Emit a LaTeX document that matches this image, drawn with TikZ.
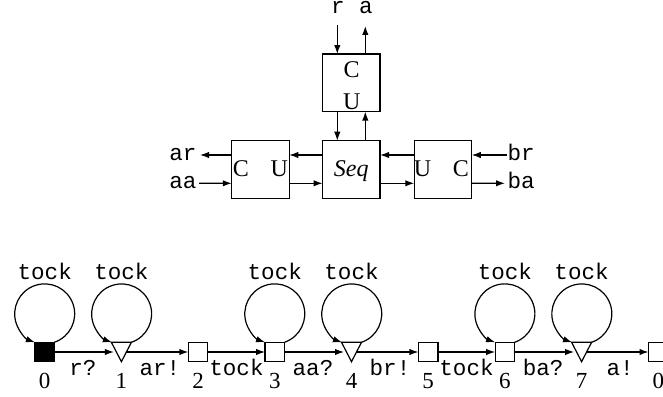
\documentclass[tikz,border=0pt]{standalone}
\usepackage{fontspec}
\setmainfont{Liberation Serif}
\setmonofont{Liberation Mono}
\usetikzlibrary{arrows.meta}
\begin{document}
\begin{tikzpicture}[x=0.5pt,y=0.5pt,
  line width=0.6pt,
  >={Latex[length=4.5pt,width=3.2pt]},
  box/.style={draw, minimum size=28.75pt, inner sep=0pt, outer sep=0pt},
  boxtext/.style={font=\fontsize{12}{14}\selectfont, inner sep=0pt, anchor=base},
  sig/.style={font=\fontsize{11.3}{13}\selectfont\ttfamily, inner sep=0pt},
  sqstate/.style={draw, minimum size=9.75pt, inner sep=0pt, outer sep=0pt},
  tristate/.style={minimum width=10pt, minimum height=9.7pt, inner sep=0pt, outer sep=0pt},
  num/.style={font=\fontsize{11.5}{13}\selectfont, inner sep=0pt, anchor=base},
  elabel/.style={sig, anchor=base, yshift=-11.75pt},
  totri/.style={shorten >=-1.25pt},
  fromtri/.style={shorten <=-2.5pt},
]
\useasboundingbox (0,0) rectangle (663,396);
\clip (0,0) rectangle (663,396);

% ---------- block structure ----------
\node[box] (T) at (351.3,313.2) {};
\node[box] (S) at (351.3,226.5) {};
\node[box] (L) at (260.5,226.5) {};
\node[box] (R) at (443,226.5) {};

\node[boxtext] (TC) at (351.7,318.7) {C};
\node[boxtext] (TU) at (351.7,286) {U};
\node[boxtext] (LC) at (240.8,219.3) {C};
\node[boxtext] (LU) at (279.2,219.3) {U};
\node[boxtext] (SQ) at (351.2,219.3) {\itshape Seq};
\node[boxtext] (RU) at (422.5,219.3) {U};
\node[boxtext] (RC) at (460.8,219.3) {C};

% external ports
\coordinate (rIn)  at (337.3,371);
\coordinate (aOut) at (365.3,370);
\coordinate (arE)  at (200,241);
\coordinate (aaS)  at (199,212.7);
\coordinate (brS)  at (506.7,241);
\coordinate (baE)  at (505,212.7);

\node[sig, anchor=base] (rT) at (338,382) {r};
\node[sig, anchor=base] (aT) at (365.8,382) {a};
\node[sig, anchor=base east] (arT) at (197,235.5) {ar};
\node[sig, anchor=base east] (aaT) at (197,207) {aa};
\node[sig, anchor=base west] (brT) at (507,235.5) {br};
\node[sig, anchor=base west] (baT) at (507,207) {ba};

\draw[->] (rIn) -- ([xshift=-7pt]T.north);
\draw[->] ([xshift=7pt]T.north) -- (aOut);
\draw[->] ([xshift=-7pt]T.south) -- ([xshift=-7pt]S.north);
\draw[->] ([xshift=7pt]S.north) -- ([xshift=7pt]T.south);

\draw[->] ([yshift=7.25pt]L.west) -- (arE);
\draw[->] (aaS) -- ([yshift=-6.9pt]L.west);
\draw[->] ([yshift=7.25pt]S.west) -- ([yshift=7.25pt]L.east);
\draw[->] ([yshift=-6.9pt]L.east) -- ([yshift=-6.9pt]S.west);
\draw[->] ([yshift=7.25pt]R.west) -- ([yshift=7.25pt]S.east);
\draw[->] ([yshift=-6.9pt]S.east) -- ([yshift=-6.9pt]R.west);
\draw[->] (brS) -- ([yshift=7.25pt]R.east);
\draw[->] ([yshift=-6.9pt]R.east) -- (baE);

% ---------- transition system ----------
\node[sqstate, fill=black] (n0) at (44.7,44) {};
\node[tristate] (n1) at (121.4,44) {};
\node[sqstate] (n2) at (198.1,44) {};
\node[sqstate] (n3) at (274.8,44) {};
\node[tristate] (n4) at (351.5,44) {};
\node[sqstate] (n5) at (428.2,44) {};
\node[sqstate] (n6) at (504.9,44) {};
\node[tristate] (n7) at (581.6,44) {};
\node[sqstate] (n8) at (658.3,44) {};

\foreach \n in {n1,n4,n7}
  \draw (\n.north west) -- (\n.north east) -- (\n.south) -- cycle;

% state numbers
\foreach \n/\k in {n0/0,n1/1,n2/2,n3/3,n4/4,n5/5,n6/6,n7/7,n8/0}
  \path (\n) ++(0,-36.3) node[num] (d\n) {\k};

% tock self-loops
\foreach \n in {n0,n1,n3,n4,n6,n7} {
  \draw[->] (\n.north east) arc[start angle=-71, end angle=251, radius=30];
  \path (\n) ++(0,72.7) node[sig, anchor=base] (t\n) {tock};
}

% transitions
\draw[->, totri]   (n0) -- (n1) node[elabel, midway] (e01) {r?};
\draw[->, fromtri] (n1) -- (n2) node[elabel, midway] (e12) {ar!};
\draw[->]          (n2) -- (n3) node[elabel, midway] (e23) {tock};
\draw[->, totri]   (n3) -- (n4) node[elabel, midway] (e34) {aa?};
\draw[->, fromtri] (n4) -- (n5) node[elabel, midway] (e45) {br!};
\draw[->]          (n5) -- (n6) node[elabel, midway] (e56) {tock};
\draw[->, totri]   (n6) -- (n7) node[elabel, midway] (e67) {ba?};
\draw[->, fromtri] (n7) -- (n8) node[elabel, midway] (e78) {a!};
\end{tikzpicture}
\end{document}
